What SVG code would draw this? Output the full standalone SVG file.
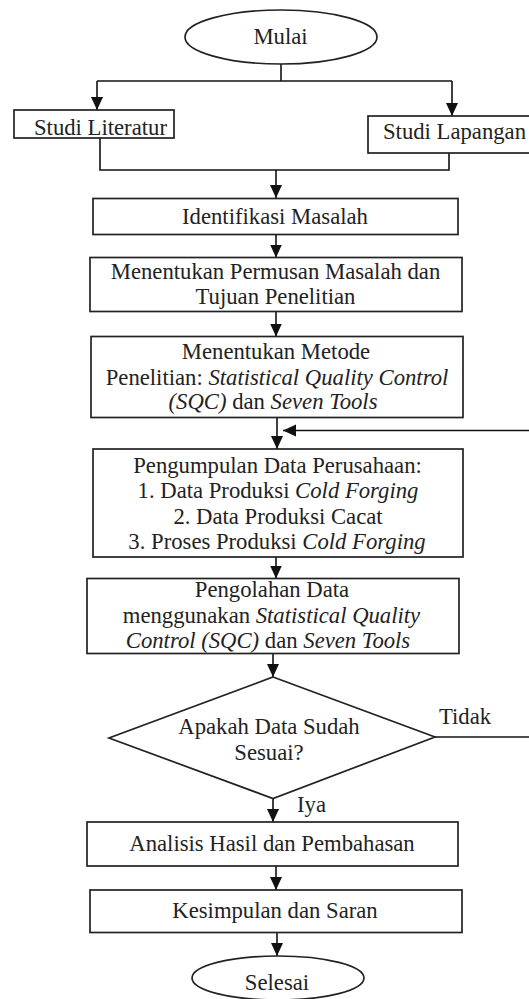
<svg xmlns="http://www.w3.org/2000/svg" width="529" height="999" viewBox="0 0 529 999">
<defs>
<style>
.n{fill:#fff;stroke:#222;stroke-width:1.7}
.c{fill:none;stroke:#111;stroke-width:1.6}
.m{text-anchor:middle}
.i{font-style:italic}
</style>
<marker id="ah" markerUnits="userSpaceOnUse" markerWidth="14" markerHeight="14" viewBox="0 0 14 14" refX="13" refY="7" orient="auto">
<path d="M0,1 L13,7 L0,13 Z" fill="#111"/>
</marker>
</defs>
<rect width="529" height="999" fill="#fff"/>
<g font-family="Liberation Serif, Times New Roman, serif" font-size="22.7" fill="#222">
<g id="connectors">
<path class="c" d="M281,64 V81"/>
<path class="c" d="M97,81 H452"/>
<path class="c" d="M97,81 V110" marker-end="url(#ah)"/>
<path class="c" d="M452,81 V116" marker-end="url(#ah)"/>
<path class="c" d="M100,138 V170 H449 V153"/>
<path class="c" d="M276,170 V198" marker-end="url(#ah)"/>
<path class="c" d="M276,234.5 V257.5" marker-end="url(#ah)"/>
<path class="c" d="M276,311.5 V336.5" marker-end="url(#ah)"/>
<path class="c" d="M277,417.5 V449" marker-end="url(#ah)"/>
<path class="c" d="M529,430.5 H283" marker-end="url(#ah)"/>
<path class="c" d="M276,557 V578.5" marker-end="url(#ah)"/>
<path class="c" d="M273,653.5 V677" marker-end="url(#ah)"/>
<path class="c" d="M435,737 H529"/>
<path class="c" d="M273,798.5 V822" marker-end="url(#ah)"/>
<path class="c" d="M276,866 V890" marker-end="url(#ah)"/>
<path class="c" d="M277,932.5 V956" marker-end="url(#ah)"/>
<text x="439" y="724">Tidak</text>
<text x="297" y="812">Iya</text>
</g>
<g id="mulai">
<ellipse class="n" cx="281" cy="37" rx="96" ry="27"/>
<text class="m" x="280.5" y="44">Mulai</text>
</g>
<g id="studi-literatur">
<rect class="n" x="14" y="110" width="160" height="28"/>
<text x="34" y="135">Studi Literatur</text>
</g>
<g id="studi-lapangan">
<rect class="n" x="368" y="116" width="170" height="37"/>
<text x="383" y="139">Studi Lapangan</text>
</g>
<g id="identifikasi">
<rect class="n" x="93" y="198.5" width="365" height="36"/>
<text class="m" x="275" y="223.5">Identifikasi Masalah</text>
</g>
<g id="permusan">
<rect class="n" x="90" y="257.5" width="372" height="54"/>
<text class="m" x="275.5" y="279">Menentukan Permusan Masalah dan</text>
<text class="m" x="275.5" y="304">Tujuan Penelitian</text>
</g>
<g id="metode">
<rect class="n" x="91" y="336.5" width="372" height="81"/>
<text class="m" x="276" y="359">Menentukan Metode</text>
<text class="m" x="277" y="384.5">Penelitian: <tspan class="i">Statistical Quality Control</tspan></text>
<text class="m" x="273" y="409"><tspan class="i">(SQC)</tspan> dan <tspan class="i">Seven Tools</tspan></text>
</g>
<g id="pengumpulan">
<rect class="n" x="93" y="449" width="370" height="108"/>
<text class="m" x="277.5" y="472.5">Pengumpulan Data Perusahaan:</text>
<text class="m" x="278" y="498">1. Data Produksi <tspan class="i">Cold Forging</tspan></text>
<text class="m" x="278" y="524">2. Data Produksi Cacat</text>
<text class="m" x="277" y="548.5">3. Proses Produksi <tspan class="i">Cold Forging</tspan></text>
</g>
<g id="pengolahan">
<rect class="n" x="87" y="578.5" width="372" height="75"/>
<text class="m" x="272" y="597">Pengolahan Data</text>
<text class="m" x="271.5" y="623">menggunakan <tspan class="i">Statistical Quality</tspan></text>
<text class="m" x="268" y="648"><tspan class="i">Control (SQC)</tspan> dan <tspan class="i">Seven Tools</tspan></text>
</g>
<g id="keputusan">
<polygon class="n" points="273,677 435,737 273,798.5 109,738"/>
<text class="m" x="269" y="733.5">Apakah Data Sudah</text>
<text class="m" x="269" y="759.5">Sesuai?</text>
</g>
<g id="analisis">
<rect class="n" x="87" y="822" width="371" height="44"/>
<text class="m" x="272" y="851">Analisis Hasil dan Pembahasan</text>
</g>
<g id="kesimpulan">
<rect class="n" x="90" y="890" width="372" height="42.5"/>
<text class="m" x="275" y="918">Kesimpulan dan Saran</text>
</g>
<g id="selesai">
<ellipse class="n" cx="278" cy="978" rx="86" ry="22"/>
<text class="m" x="277" y="990">Selesai</text>
</g>
</g>
</svg>
